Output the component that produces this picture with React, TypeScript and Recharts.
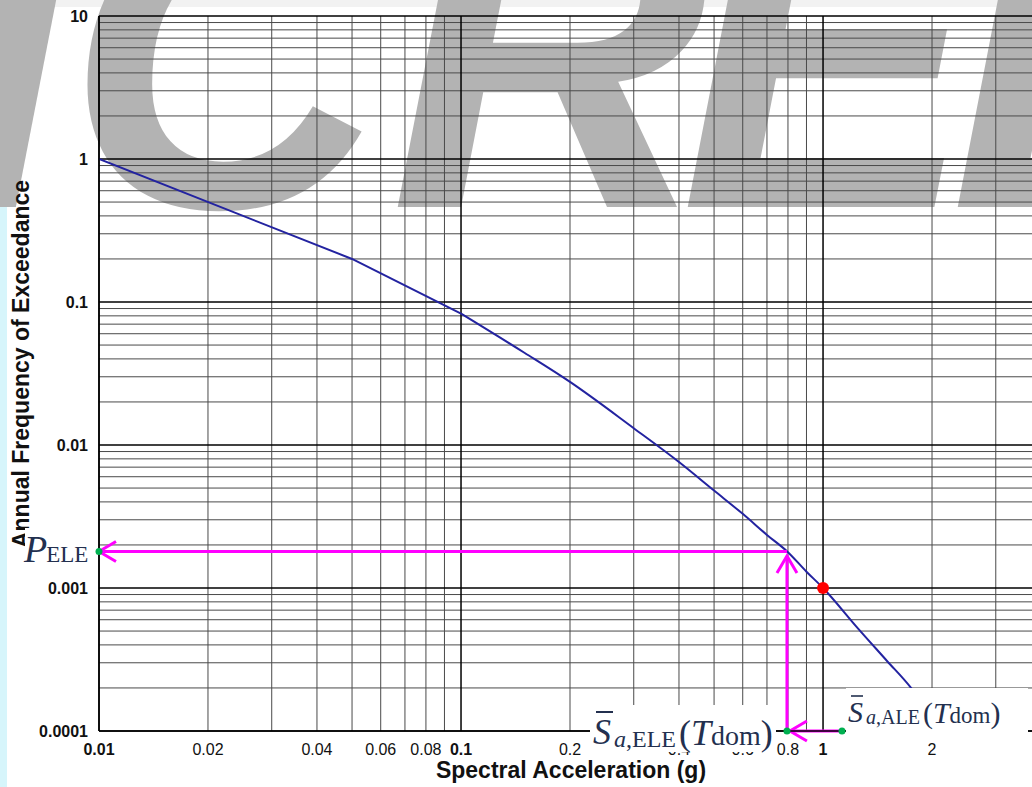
import {
  LineChart,
  Line,
  XAxis,
  YAxis,
  CartesianGrid,
  ReferenceLine,
  ReferenceDot,
} from 'recharts'

// hazard curve
const saValues = [0.01, 0.05, 0.1, 0.15, 0.2, 0.3, 0.4, 0.5, 0.6, 0.7, 0.8, 0.9, 1, 1.25, 1.5, 1.75, 2.1]
const freqValues = [1, 0.2, 0.083, 0.044, 0.0276, 0.0131, 0.0076, 0.0048, 0.0033, 0.00235, 0.00178, 0.0013, 0.001, 0.00052, 0.00031, 0.0002, 0.0001]

const xTicks = [0.01, 0.02, 0.04, 0.06, 0.08, 0.1, 0.2, 0.4, 0.6, 0.8, 1, 2]
const yTicks = [0.0001, 0.001, 0.01, 0.1, 1, 10]
const xMajor = [0.01, 0.1, 1]
const xMinor = [0.02, 0.03, 0.04, 0.05, 0.06, 0.07, 0.08, 0.09, 0.2, 0.3, 0.4, 0.5, 0.6, 0.7, 0.8, 0.9, 2, 3, 4]
const yMajor = [0.0001, 0.001, 0.01, 0.1, 1, 10]
const steps = [2, 3, 4, 5, 6, 7, 8, 9]
const yMinor = [0.0001, 0.001, 0.01, 0.1, 1].flatMap(d => steps.map(s => +(d * s).toPrecision(3)))

// design points
const saELE = 0.795
const saALE = 1.128
const pELE = 0.0018
const designPoint = { sa: 1, freq: 0.001 }

const data = saValues.map((sa, i) => ({ sa, freq: freqValues[i] }))
// straight part up to 0.1, smooth after
const headData = data.slice(0, 3)
const tailData = data.slice(2)

const SANS = '"Liberation Sans", Arial, sans-serif'
const SERIF = '"Liberation Serif", "Times New Roman", serif'
const INK = '#23304f'
const MAGENTA = '#ff00ff'
const GREEN = '#00b050'
const BLUE = '#2323a0'

const renderXTick = (props: any) => {
  const { x, y, payload } = props
  const v = payload.value
  return (
    <text
      x={x}
      y={y + 24}
      textAnchor="middle"
      fontSize={16}
      fontFamily={SANS}
      fontWeight={xMajor.includes(v) ? 'bold' : 'normal'}
      fill="#111"
    >
      {String(v)}
    </text>
  )
}

const renderYTick = (props: any) => {
  const { x, y, payload } = props
  return (
    <text x={x - 11} y={y + 6} textAnchor="end" fontSize={16} fontFamily={SANS} fontWeight="bold" fill="#111">
      {String(payload.value)}
    </text>
  )
}

// magenta line with an open arrow head at its second point
const arrowShape = (props: any) => {
  const { x1, y1, x2, y2 } = props
  const dx = x2 - x1
  const dy = y2 - y1
  const len = Math.sqrt(dx * dx + dy * dy) || 1
  const ux = dx / len
  const uy = dy / len
  const bx = x2 - ux * 17
  const by = y2 - uy * 17
  const nx = -uy * 10
  const ny = ux * 10
  return (
    <g>
      <line x1={x1} y1={y1} x2={x2} y2={y2} stroke={MAGENTA} strokeWidth={3} />
      <polyline
        points={`${bx + nx},${by + ny} ${x2},${y2} ${bx - nx},${by - ny}`}
        fill="none"
        stroke={MAGENTA}
        strokeWidth={3}
      />
    </g>
  )
}

export default function App() {
  return (
    <div
      style={{
        position: 'absolute',
        left: 0,
        top: 0,
        width: 1032,
        height: 787,
        overflow: 'hidden',
        background: '#d6f5fb',
      }}
    >
      <div style={{ position: 'absolute', left: 7, top: 0, width: 1025, height: 7, background: '#f2f2f2' }} />
      <div style={{ position: 'absolute', left: 7, top: 7, width: 1025, height: 780, background: '#fff' }} />

      {/* watermark, under the grid */}
      <svg width={1032} height={787} style={{ position: 'absolute', left: 0, top: 0 }}>
        <g fontFamily={SANS} fontWeight="bold" fontStyle="italic" fontSize={440} fill="#b3b3b3">
          <text x={-55} y={207}>I</text>
          <text x={66} y={207}>C</text>
          <text x={390} y={207}>R</text>
          <text x={680} y={207}>E</text>
          <text x={950} y={207}>E</text>
        </g>
      </svg>

      <div style={{ position: 'absolute', left: 0, top: 0 }}>
        <LineChart width={1060} height={787} data={data} margin={{ top: 16, right: 19, bottom: 0, left: 0 }}>
          <CartesianGrid
            horizontalValues={yMinor}
            verticalValues={xMinor}
            stroke="#4a4a4a"
            strokeWidth={1}
          />
          <CartesianGrid
            horizontalValues={yMajor}
            verticalValues={xMajor}
            stroke="#000"
            strokeWidth={1.5}
          />
          <XAxis
            type="number"
            dataKey="sa"
            scale="log"
            domain={[0.01, 4]}
            ticks={xTicks}
            interval={0}
            allowDataOverflow
            height={56}
            tickSize={0}
            tickMargin={0}
            tickLine={false}
            axisLine={{ stroke: '#000', strokeWidth: 1.5 }}
            tick={renderXTick}
          />
          <YAxis
            type="number"
            scale="log"
            domain={[0.0001, 10]}
            ticks={yTicks}
            interval={0}
            allowDataOverflow
            width={99}
            tickSize={0}
            tickMargin={0}
            tickLine={false}
            axisLine={{ stroke: '#000', strokeWidth: 1.5 }}
            tick={renderYTick}
          />
          <Line
            data={headData}
            type="linear"
            dataKey="freq"
            stroke={BLUE}
            strokeWidth={2}
            dot={false}
            isAnimationActive={false}
          />
          <Line
            data={tailData}
            type="monotone"
            dataKey="freq"
            stroke={BLUE}
            strokeWidth={2}
            dot={false}
            isAnimationActive={false}
          />
          <ReferenceLine
            segment={[{ x: saELE, y: pELE }, { x: 0.01, y: pELE }]}
            ifOverflow="visible"
            shape={arrowShape}
          />
          <ReferenceLine
            segment={[{ x: saELE, y: 0.0001 }, { x: saELE, y: pELE * 0.93 }]}
            ifOverflow="visible"
            shape={arrowShape}
          />
          <ReferenceLine
            segment={[{ x: saALE, y: 0.0001 }, { x: 0.81, y: 0.0001 }]}
            ifOverflow="visible"
            shape={arrowShape}
          />
          <ReferenceDot x={designPoint.sa} y={designPoint.freq} r={6} fill="#ff0000" stroke="none" ifOverflow="visible" />
          <ReferenceDot x={0.01} y={pELE} r={3.5} fill={GREEN} stroke="none" ifOverflow="visible" />
          <ReferenceDot x={saELE} y={0.0001} r={3.5} fill={GREEN} stroke="none" ifOverflow="visible" />
          <ReferenceDot x={saALE} y={0.0001} r={3.5} fill={GREEN} stroke="none" ifOverflow="visible" />
        </LineChart>
      </div>

      {/* titles and annotations */}
      <svg width={1032} height={787} style={{ position: 'absolute', left: 0, top: 0, pointerEvents: 'none' }}>
        <text
          transform="rotate(-90)"
          x={-364}
          y={29}
          textAnchor="middle"
          fontFamily={SANS}
          fontWeight="bold"
          fontSize={23}
          fill="#111"
        >
          Annual Frequency of Exceedance
        </text>
        <text x={571} y={778} textAnchor="middle" fontFamily={SANS} fontWeight="bold" fontSize={23} fill="#111">
          Spectral Acceleration (g)
        </text>

        <rect x={25} y={528} width={66} height={42} fill="#fff" />
        <text x={24} y={562} fontFamily={SERIF} fill={INK}>
          <tspan fontStyle="italic" fontSize={38}>P</tspan>
          <tspan fontSize={23} dx={-1}>ELE</tspan>
        </text>

        <rect x={590} y={705} width={186} height={47} fill="#fff" />
        <line x1={596} y1={712} x2={613} y2={712} stroke={INK} strokeWidth={2} />
        <text x={593} y={744} fontFamily={SERIF} fill={INK}>
          <tspan fontStyle="italic" fontSize={36}>S</tspan>
          <tspan fontStyle="italic" fontSize={24} dx={3} dy={3}>a</tspan>
          <tspan fontSize={24}>,ELE</tspan>
          <tspan fontSize={36} dx={3} dy={-2}>(</tspan>
          <tspan fontStyle="italic" fontSize={36}>T</tspan>
          <tspan fontSize={28}>dom</tspan>
          <tspan fontSize={36}>)</tspan>
        </text>

        <rect x={846} y={688} width={182} height={45} fill="#fff" />
        <line x1={851} y1={696} x2={863} y2={696} stroke={INK} strokeWidth={1.6} />
        <text x={848} y={722} fontFamily={SERIF} fill={INK}>
          <tspan fontStyle="italic" fontSize={30}>S</tspan>
          <tspan fontStyle="italic" fontSize={20} dx={3} dy={2}>a</tspan>
          <tspan fontSize={20}>,ALE</tspan>
          <tspan fontSize={30} dx={3} dy={-1}>(</tspan>
          <tspan fontStyle="italic" fontSize={30}>T</tspan>
          <tspan fontSize={23}>dom</tspan>
          <tspan fontSize={30}>)</tspan>
        </text>
      </svg>
    </div>
  )
}
